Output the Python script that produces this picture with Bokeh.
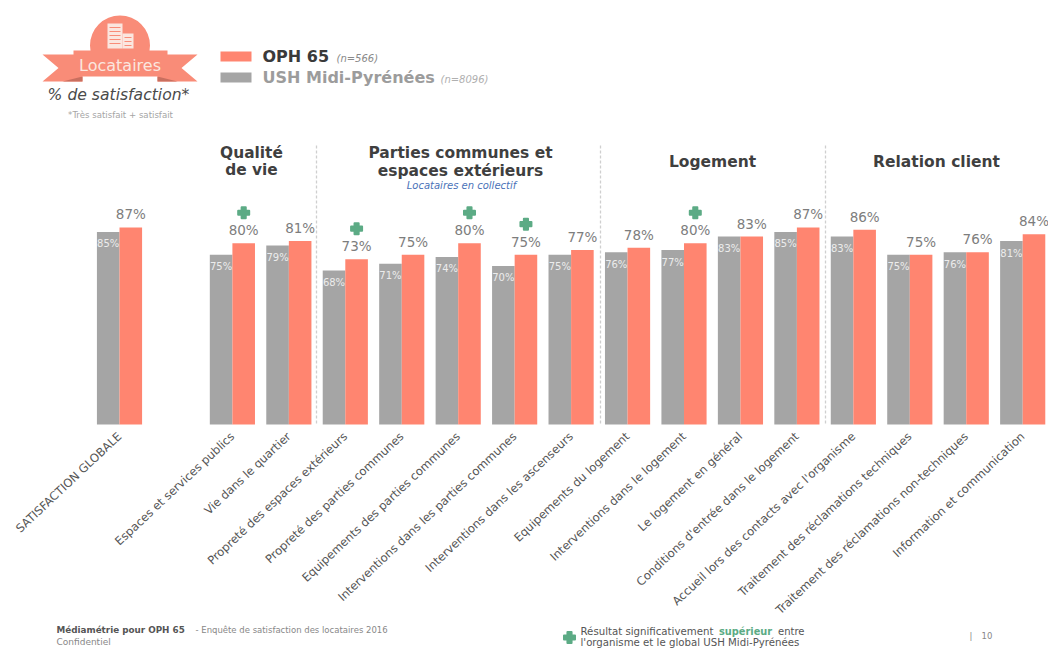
from bokeh.core.properties import value
from bokeh.embed import file_html
from bokeh.models import FixedTicker, LinearAxis, Range1d
from bokeh.plotting import figure
from bokeh.resources import INLINE

# Survey results, percent satisfied
categories = [
    "SATISFACTION GLOBALE", "Espaces et services publics", "Vie dans le quartier",
    "Propreté des espaces extérieurs", "Propreté des parties communes",
    "Equipements des parties communes", "Interventions dans les parties communes",
    "Interventions dans les ascenseurs", "Equipements du logement",
    "Interventions dans le logement", "Le logement en général",
    "Conditions d'entrée dans le logement", "Accueil lors des contacts avec l'organisme",
    "Traitement des réclamations techniques", "Traitement des réclamations non-techniques",
    "Information et communication",
]
slots = [0, 2, 3, 4, 5, 6, 7, 8, 9, 10, 11, 12, 13, 14, 15, 16]
oph65 = [87, 80, 81, 73, 75, 80, 75, 77, 78, 80, 83, 87, 86, 75, 76, 84]
ush = [85, 75, 79, 68, 71, 74, 70, 75, 76, 77, 83, 85, 83, 75, 76, 81]
significant = [1, 3, 5, 6, 9]  # indexes with a significantly higher result

ORANGE = "#FF8570"
GREY = "#A5A5A5"
GREEN = "#5CAB85"
RIBBON = "#F98C78"
FONT = value("DejaVu Sans")

PX_PER_SLOT = 56.45
PX_PER_PCT = 2.265
ORIGIN_X = 119.0
BASELINE_Y = 424.0

p = figure(
    width=1048, height=648, output_backend="svg", toolbar_location=None,
    x_axis_type=None, y_axis_type=None, min_border=0,
    x_range=Range1d(-ORIGIN_X / PX_PER_SLOT, (1048 - ORIGIN_X) / PX_PER_SLOT),
    y_range=Range1d(-(648 - BASELINE_Y) / PX_PER_PCT, BASELINE_Y / PX_PER_PCT),
    background_fill_color="white", border_fill_color="white", outline_line_color=None,
)
p.extra_x_ranges = {"px": Range1d(0, 1048)}
p.extra_y_ranges = {"px": Range1d(648, 0)}
PX = dict(x_range_name="px", y_range_name="px")


def label(x, y, text, size, color, style="normal", align="left"):
    p.text(x=[x], y=[y], text=[text], text_font=FONT, text_font_size=f"{size}px",
           text_color=color, text_font_style=style, text_align=align,
           text_baseline="middle", **PX)


# Bars
bar_w = 0.4
p.vbar(x=[s - bar_w / 2 for s in slots], top=ush, width=bar_w, bottom=0,
       fill_color=GREY, line_color=None)
p.vbar(x=[s + bar_w / 2 for s in slots], top=oph65, width=bar_w, bottom=0,
       fill_color=ORANGE, line_color=None)

# Value labels
p.text(x=[s + bar_w / 2 for s in slots], y=oph65, text=[f"{v}%" for v in oph65],
       text_font=FONT, text_font_size="13.5px", text_color="#7d7d7d",
       text_align="center", text_baseline="middle", y_offset=-13)
p.text(x=[s - bar_w / 2 for s in slots], y=ush, text=[f"{v}%" for v in ush],
       text_font=FONT, text_font_size="10px", text_color="#ececec",
       text_align="center", text_baseline="middle", y_offset=12)

# Significance markers above the labels, with rounded arms
p.scatter(x=[slots[i] + bar_w / 2 for i in significant],
          y=[oph65[i] + 30.5 / PX_PER_PCT for i in significant],
          marker="plus", size=11, fill_color=GREEN, line_color=GREEN,
          line_width=2, line_join="round")

# Category labels hang from the baseline
axis = LinearAxis(
    ticker=FixedTicker(ticks=slots),
    major_label_overrides=dict(zip(slots, categories)),
    major_label_orientation=0.755,
    major_label_text_font="DejaVu Sans",
    major_label_text_font_size="11.6px",
    major_label_text_color="#555555",
    major_label_standoff=4,
    axis_line_color=None, major_tick_line_color=None, minor_tick_line_color=None,
    fixed_location=0,
)
p.add_layout(axis, "below")

# Section dividers
for x in (316, 600, 825):
    p.line(x=[x, x], y=[145, 424], line_color="#cfcfcf", line_width=1.3,
           line_dash="3 2", **PX)

# Section titles
label(251, 152, "Qualité", 15.4, "#3f3f3f", "bold", "center")
label(251, 169.5, "de vie", 15.4, "#3f3f3f", "bold", "center")
label(460, 152, "Parties communes et", 15.5, "#3f3f3f", "bold", "center")
label(460, 170, "espaces extérieurs", 15.5, "#3f3f3f", "bold", "center")
label(461, 185, "Locataires en collectif", 10, "#4a72b8", "italic", "center")
label(712, 161, "Logement", 15.5, "#3f3f3f", "bold", "center")
label(936, 161, "Relation client", 15.5, "#3f3f3f", "bold", "center")

# Legend
p.quad(left=[220], right=[251], top=[51], bottom=[61], fill_color=ORANGE, line_color=None, **PX)
p.quad(left=[220], right=[251], top=[72], bottom=[82], fill_color=GREY, line_color=None, **PX)
label(262, 56, "OPH 65", 16, "#3a3a3a", "bold")
label(336, 58, "(n=566)", 10, "#8a8a8a", "italic")
label(262, 77, "USH Midi-Pyrénées", 16, "#9c9c9c", "bold")
label(440, 79, "(n=8096)", 10, "#b0b0b0", "italic")

# Badge: disc, ribbon and building
p.circle(x=[119.5], y=[45], radius=30, fill_color=RIBBON, line_color=None, **PX)
p.patch(x=[42, 82, 82, 42, 58], y=[54, 54, 81, 81, 67.5], fill_color=RIBBON, line_color=None, **PX)
p.patch(x=[197, 157, 157, 197, 181], y=[54, 54, 81, 81, 67.5], fill_color=RIBBON, line_color=None, **PX)
p.patch(x=[62, 82, 82, 70], y=[81, 76, 81, 81], fill_color="#C96F5F", line_color=None, **PX)
p.patch(x=[177, 157, 157, 169], y=[81, 76, 81, 81], fill_color="#C96F5F", line_color=None, **PX)
p.quad(left=[73], right=[167], top=[50], bottom=[76], fill_color=RIBBON, line_color=None, **PX)
p.quad(left=[107, 122], right=[122, 133], top=[23, 33], bottom=[48, 48],
       fill_color="#FBE6DF", line_color=None, **PX)
for wy in (27, 31, 35, 39, 43):
    p.line(x=[109, 120], y=[wy, wy], line_color=RIBBON, line_width=1, **PX)
for wy in (37, 41, 45):
    p.line(x=[124, 131], y=[wy, wy], line_color=RIBBON, line_width=1, **PX)
label(119.5, 65, "Locataires", 16, "#FBE6DF", "normal", "center")
label(118, 94, "% de satisfaction*", 15.6, "#4a4a4a", "italic", "center")
label(120, 114.5, "*Très satisfait + satisfait", 8.6, "#a5a5a5", "normal", "center")

# Footer
label(56, 629, "Médiamétrie pour OPH 65", 8.8, "#555555", "bold")
label(195, 629, "- Enquête de satisfaction des locataires 2016", 8.5, "#888888")
label(56, 641, "Confidentiel", 9, "#888888")
p.scatter(x=[569], y=[637], marker="plus", size=11, fill_color=GREEN, line_color=GREEN,
          line_width=2, line_join="round", **PX)
label(580, 631, "Résultat significativement", 10.2, "#555555")
label(718.5, 631, "supérieur", 9.8, GREEN, "bold")
label(777.5, 631, "entre", 10, "#555555")
label(580, 642, "l'organisme et le global USH Midi-Pyrénées", 10.2, "#555555")
label(969, 635, "|", 8.5, "#888888")
label(981, 635, "10", 8.5, "#888888")

open("out.html", "w").write(file_html(p, INLINE))
